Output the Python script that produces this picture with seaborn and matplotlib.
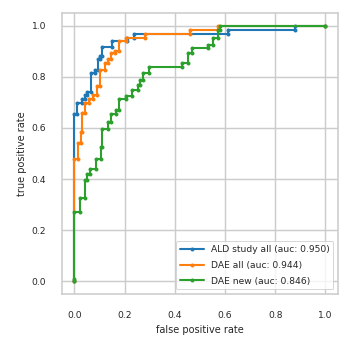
import matplotlib
matplotlib.use("Agg")
import numpy as np
import pandas as pd
import matplotlib.pyplot as plt
import seaborn as sns

# ROC curve points
fpr_ald = [0, 0, 0.01, 0.01, 0.03, 0.03, 0.04, 0.04, 0.05, 0.05, 0.067, 0.067,
           0.08, 0.08, 0.093, 0.093, 0.103, 0.103, 0.11, 0.11, 0.15, 0.15,
           0.21, 0.21, 0.237, 0.237, 0.61, 0.61, 0.88, 0.88, 1.0]
tpr_ald = [0, 0.655, 0.655, 0.697, 0.697, 0.712, 0.712, 0.729, 0.729, 0.742, 0.742, 0.814,
           0.814, 0.827, 0.827, 0.869, 0.869, 0.88, 0.88, 0.916, 0.916, 0.942,
           0.942, 0.953, 0.953, 0.969, 0.969, 0.984, 0.984, 1.0, 1.0]

fpr_dae_all = [0, 0, 0.015, 0.015, 0.025, 0.025, 0.03, 0.03, 0.04, 0.04, 0.056, 0.056,
               0.073, 0.073, 0.09, 0.09, 0.103, 0.103, 0.12, 0.12, 0.133, 0.133,
               0.147, 0.147, 0.16, 0.16, 0.177, 0.177, 0.204, 0.204, 0.28, 0.28,
               0.46, 0.46, 0.572, 0.572, 1.0]
tpr_dae_all = [0, 0.48, 0.48, 0.54, 0.54, 0.585, 0.585, 0.657, 0.657, 0.698, 0.698, 0.714,
               0.714, 0.729, 0.729, 0.765, 0.765, 0.827, 0.827, 0.854, 0.854, 0.869,
               0.869, 0.893, 0.893, 0.9, 0.9, 0.939, 0.939, 0.953, 0.953, 0.969,
               0.969, 0.984, 0.984, 1.0, 1.0]

fpr_dae_new = [0, 0, 0, 0.02, 0.02, 0.04, 0.04, 0.05, 0.05, 0.06, 0.06, 0.084, 0.084,
               0.105, 0.105, 0.11, 0.11, 0.133, 0.133, 0.147, 0.147, 0.167, 0.167,
               0.176, 0.176, 0.204, 0.204, 0.228, 0.228, 0.252, 0.252, 0.26, 0.26,
               0.272, 0.272, 0.295, 0.295, 0.43, 0.43, 0.452, 0.452, 0.468, 0.468,
               0.532, 0.532, 0.552, 0.552, 0.572, 0.572, 0.58, 0.58, 1.0]
tpr_dae_new = [0, 0.01, 0.27, 0.27, 0.325, 0.325, 0.396, 0.396, 0.42, 0.42, 0.44, 0.44, 0.48,
               0.48, 0.525, 0.525, 0.595, 0.595, 0.625, 0.625, 0.655, 0.655, 0.67,
               0.67, 0.714, 0.714, 0.725, 0.725, 0.749, 0.749, 0.769, 0.769, 0.788,
               0.788, 0.816, 0.816, 0.839, 0.839, 0.855, 0.855, 0.894, 0.894, 0.914,
               0.914, 0.925, 0.925, 0.953, 0.953, 0.984, 0.984, 1.0, 1.0]

curves = [
    ("ALD study all (auc: 0.950)", fpr_ald, tpr_ald),
    ("DAE all (auc: 0.944)", fpr_dae_all, tpr_dae_all),
    ("DAE new (auc: 0.846)", fpr_dae_new, tpr_dae_new),
]

sns.set_theme(context="paper", style="whitegrid", palette="tab10")
plt.rcParams['font.family'] = ['DejaVu Sans']
plt.rcParams.update({'font.size': 7.5, 'axes.labelsize': 8, 'xtick.labelsize': 7.5,
                     'ytick.labelsize': 7.5, 'legend.fontsize': 7.5,
                     'xtick.major.pad': 9, 'ytick.major.pad': 8,
                     'grid.linewidth': 1.2, 'axes.linewidth': 1.3})

fig, ax = plt.subplots(figsize=(4, 4), dpi=88)
palette = sns.color_palette("tab10")
for i, (name, fpr, tpr) in enumerate(curves):
    df = pd.DataFrame({"fpr": fpr, "tpr": tpr})
    sns.lineplot(data=df, x="fpr", y="tpr", sort=False, estimator=None,
                 marker=".", markeredgewidth=0, markersize=6.5, linewidth=1.7,
                 color=palette[i], label=name, ax=ax)

ax.set_xlabel("false positive rate")
ax.set_ylabel("true positive rate")
ax.set_xticks(np.arange(0, 1.01, 0.2))
ax.set_yticks(np.arange(0, 1.01, 0.2))
ax.legend(loc="lower right", handlelength=2.6, labelspacing=0.75)

fig.subplots_adjust(left=0.176, right=0.96, top=0.963, bottom=0.165)
plt.savefig("out.png", dpi=88)
